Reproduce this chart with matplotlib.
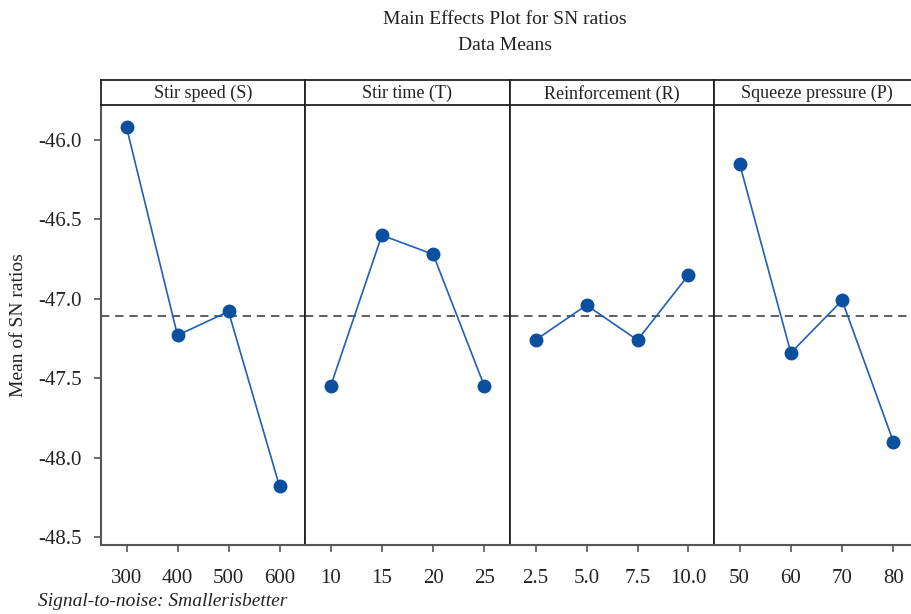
import matplotlib
matplotlib.use("Agg")
import matplotlib.pyplot as plt

plt.rcParams["font.family"] = ["Liberation Serif", "DejaVu Serif"]

# factor names and levels
factors = ["Stir speed (S)", "Stir time (T)", "Reinforcement (R)", "Squeeze pressure (P)"]
levels = [
    ["300", "400", "500", "600"],
    ["10", "15", "20", "25"],
    ["2.5", "5.0", "7.5", "10.0"],
    ["50", "60", "70", "80"],
]
# mean SN ratio at each level
sn_means = [
    [-45.92, -47.23, -47.08, -48.18],
    [-47.55, -46.60, -46.72, -47.55],
    [-47.26, -47.04, -47.26, -46.85],
    [-46.15, -47.34, -47.01, -47.90],
]
grand_mean = -47.11
yticks = [-46.0, -46.5, -47.0, -47.5, -48.0, -48.5]

W, H = 911, 614
fig = plt.figure(figsize=(W / 100, H / 100), dpi=100)

# panel edges in pixels
edges = [101, 305, 510, 714, 919]
top_hdr, top_plot, bottom = 80, 105, 545

def px_box(x0, x1, y0, y1):
    return [x0 / W, 1 - y1 / H, (x1 - x0) / W, (y1 - y0) / H]

line_c = "#1f5fb8"
mark_c = "#0b4f9f"
spine_gray = "#555555"

for i in range(4):
    ax = fig.add_axes(px_box(edges[i], edges[i + 1], top_plot, bottom))
    x = list(range(len(levels[i])))
    ax.plot(x, sn_means[i], color=line_c, lw=1.2, marker="o", ms=9,
            mfc=mark_c, mec=mark_c, zorder=3)
    ax.axhline(grand_mean, color="#444444", lw=1.2, ls=(0, (5, 3.5)), zorder=2)
    ax.set_xlim(-0.5, 3.5)
    ax.set_ylim(-48.55, -45.78)
    ax.set_xticks(x)
    ax.set_xticklabels(levels[i])
    ax.tick_params(axis="x", direction="out", length=5, width=1.2,
                   color=spine_gray, labelsize=15, labelcolor="#222222", pad=12)
    ax.spines["top"].set_visible(False)
    ax.spines["bottom"].set_color(spine_gray)
    ax.spines["bottom"].set_linewidth(1.5)
    ax.spines["right"].set_color("#222222")
    ax.spines["right"].set_linewidth(1.3)
    if i == 0:
        ax.set_yticks(yticks)
        ax.set_yticklabels([f"{v:.1f}" for v in yticks])
        ax.tick_params(axis="y", direction="out", length=5, width=1.2,
                       color=spine_gray, labelsize=15, labelcolor="#222222", pad=9)
        ax.spines["left"].set_color(spine_gray)
        ax.spines["left"].set_linewidth(1.5)
        ax.set_ylabel("Mean of SN ratios", fontsize=14, color="#222222", labelpad=8)
    else:
        ax.set_yticks([])
        ax.spines["left"].set_color("#222222")
        ax.spines["left"].set_linewidth(1.3)

    hdr = fig.add_axes(px_box(edges[i], edges[i + 1], top_hdr, top_plot))
    hdr.set_xticks([])
    hdr.set_yticks([])
    for s in hdr.spines.values():
        s.set_color("#222222")
        s.set_linewidth(1.3)
    hdr.text(0.5, 0.45, factors[i], ha="center", va="center", fontsize=13,
             color="#222222", transform=hdr.transAxes)

fig.text(505 / W, 1 - 20 / H, "Main Effects Plot for SN ratios", ha="center",
         va="center", fontsize=14, color="#222222")
fig.text(505 / W, 1 - 45 / H, "Data Means", ha="center", va="center",
         fontsize=14, color="#222222")
fig.text(38 / W, 1 - 601 / H, "Signal-to-noise: Smallerisbetter", ha="left",
         va="center", fontsize=14, style="italic", color="#222222")

fig.savefig("out.png", dpi=100)
